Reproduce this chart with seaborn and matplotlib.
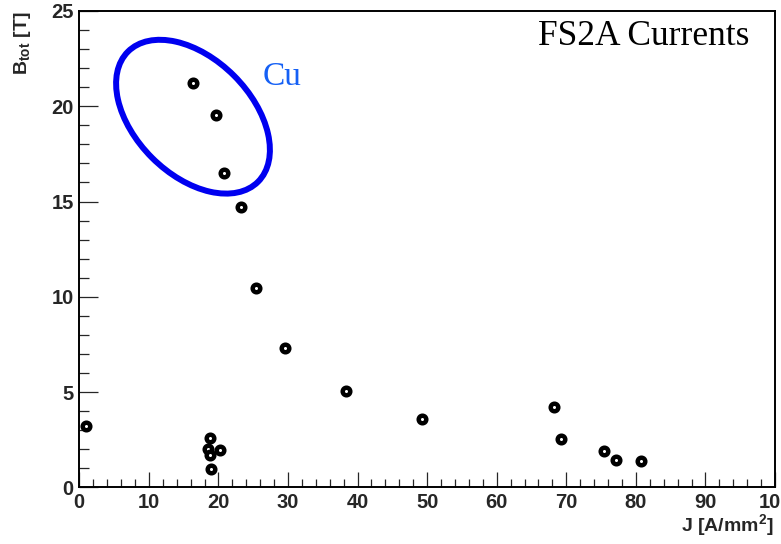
import matplotlib
matplotlib.use("Agg")
import matplotlib.pyplot as plt
from matplotlib.patches import Ellipse
from matplotlib.ticker import MultipleLocator
import seaborn as sns
import pandas as pd

# Data
current_density = [0.9, 16.4, 19.6, 20.8, 23.3, 25.4, 29.6, 38.3, 49.3,
                   68.2, 69.2, 75.4, 77.2, 80.8, 18.8, 18.5, 20.2, 18.8, 18.9]
b_total = [3.2, 21.2, 19.55, 16.5, 14.7, 10.45, 7.3, 5.07, 3.6,
           4.2, 2.55, 1.92, 1.45, 1.38, 2.6, 2.0, 1.95, 1.7, 0.95]
x_ticks = [0, 10, 20, 30, 40, 50, 60, 70, 80, 90, 100]
y_ticks = [0, 5, 10, 15, 20, 25]

df = pd.DataFrame({"J": current_density, "B": b_total})

sns.set_style("ticks")
plt.rcParams["font.family"] = ["Liberation Sans", "DejaVu Sans"]
plt.rcParams["mathtext.fontset"] = "custom"
plt.rcParams["mathtext.rm"] = "Liberation Sans:bold"
plt.rcParams["mathtext.default"] = "rm"

fig = plt.figure(figsize=(7.81, 5.44), dpi=100)
ax = fig.add_axes([0.1015, 0.1042, 0.8908, 0.8756])

sns.scatterplot(data=df, x="J", y="B", ax=ax, marker="o", s=30,
                color="white", edgecolor="black", linewidth=3.2, zorder=3,
                legend=False)

ax.set_xlim(0, 100)
ax.set_ylim(0, 25)
ax.set_xticks(x_ticks)
ax.set_yticks(y_ticks)
ax.set_xticklabels([str(t) for t in x_ticks])
ax.set_yticklabels([str(t) for t in y_ticks])
ax.xaxis.set_minor_locator(MultipleLocator(2))
ax.yaxis.set_minor_locator(MultipleLocator(1))

ax.tick_params(axis="x", which="major", direction="in", length=11, width=0.9,
               pad=4, labelsize=14.5, top=False)
ax.tick_params(axis="x", which="minor", direction="in", length=5.5, width=0.9,
               top=False)
ax.tick_params(axis="y", which="major", direction="in", length=14, width=0.9,
               pad=4, labelsize=14.5, right=False)
ax.tick_params(axis="y", which="minor", direction="in", length=7, width=0.9,
               right=False)
for lab in ax.get_xticklabels() + ax.get_yticklabels():
    lab.set_fontweight("bold")

for sp in ax.spines.values():
    sp.set_visible(True)
    sp.set_linewidth(1.4)
    sp.set_color("black")

ax.set_xlabel("J [A/mm$^{2}$]", fontsize=14, fontweight="bold", loc="right")
ax.xaxis.set_label_coords(0.9985, -0.052)
ax.set_ylabel("B$_{tot}$ [T]", fontsize=14, fontweight="bold", loc="top")
ax.yaxis.set_label_coords(-0.067, 0.998)

ax.text(0.8117, 0.9276, "FS2A Currents", transform=ax.transAxes,
        ha="center", va="baseline", fontsize=25.5, color="black",
        family=["Liberation Serif", "DejaVu Serif"])
ax.text(0.263, 0.8446, "Cu", transform=ax.transAxes, ha="left",
        va="baseline", fontsize=24, color="#1560f5",
        family=["Liberation Serif", "DejaVu Serif"])

ell = Ellipse((1.93, 4.273), 1.84, 1.16, angle=-45, fill=False,
              edgecolor="#0000f0", linewidth=4.3,
              transform=fig.dpi_scale_trans, zorder=4)
fig.add_artist(ell)

fig.savefig("out.png", dpi=100, facecolor="white")
